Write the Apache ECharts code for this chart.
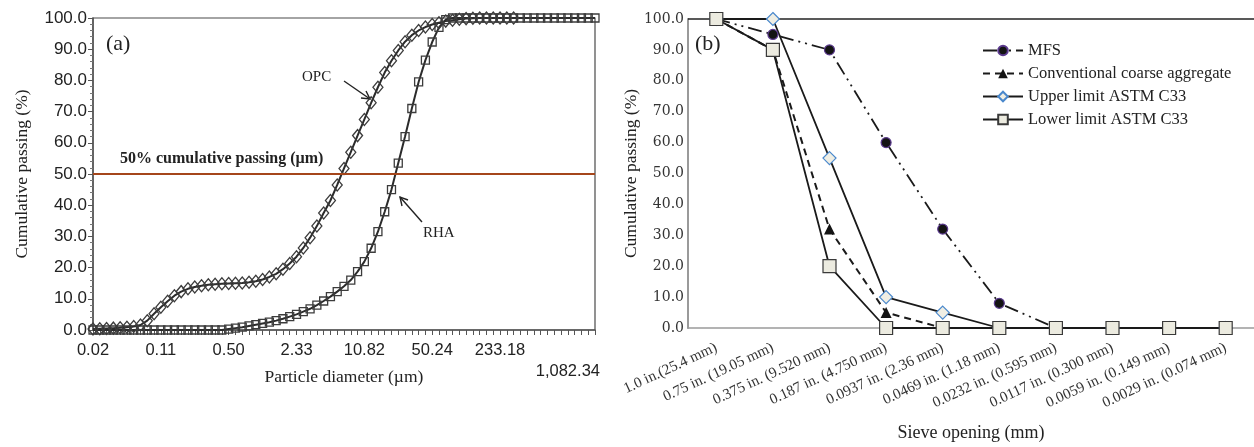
<!DOCTYPE html>
<html>
<head>
<meta charset="utf-8">
<script src="https://cdn.jsdelivr.net/npm/echarts@6/dist/echarts.min.js"></script>
<style>
  html, body { margin: 0; padding: 0; background: #fff; }
  #chart { width: 1254px; height: 447px; }
</style>
</head>
<body>
<div id="chart"></div>
<script>
// (a) laser diffraction size classes, um (15 per decade)
const sizeBins = [
  0.02332, 0.02719, 0.03170, 0.03696, 0.04309, 0.05024, 0.05857, 0.06829, 0.07962, 0.09283,
  0.1082, 0.1262, 0.1471, 0.1715, 0.2000, 0.2332, 0.2719, 0.3170, 0.3696, 0.4309,
  0.5024, 0.5857, 0.6829, 0.7962, 0.9283, 1.082, 1.262, 1.471, 1.715, 2.000,
  2.332, 2.719, 3.170, 3.696, 4.309, 5.024, 5.857, 6.829, 7.962, 9.283,
  10.82, 12.62, 14.71, 17.15, 20.00, 23.32, 27.19, 31.70, 36.96, 43.09,
  50.24, 58.57, 68.29, 79.62, 92.83, 108.2, 126.2, 147.1, 171.5, 200.0,
  233.18, 271.9, 317.0, 369.6, 430.9, 502.4, 585.7, 682.9, 796.2, 928.3,
  1082.34, 1261.9, 1471.3, 1715.4, 2000.0
]
const sizeTickLabels = ["0.02", "0.11", "0.50", "2.33", "10.82", "50.24", "233.18", "1,082.34"]

const opcPassing = [
  0.3, 0.4, 0.5, 0.6, 0.7, 0.9, 1.1, 1.6, 3.0, 5.2,
  7.3, 9.2, 11.0, 12.3, 13.2, 13.8, 14.2, 14.5, 14.7, 14.8,
  14.9, 15.0, 15.1, 15.3, 15.6, 16.2, 17.0, 18.0, 19.5, 21.3,
  23.5, 26.3, 29.6, 33.3, 37.5, 41.5, 46.5, 51.8, 57.0, 62.3,
  67.5, 72.8, 77.8, 82.5, 86.3, 89.6, 92.4, 94.5, 96.0, 97.1,
  97.9, 98.5, 99.0, 99.3, 99.6, 99.8, 99.9, 100, 100, 100,
  100, 100, 100
]
const rhaPassing = [
  0, 0, 0, 0, 0, 0, 0, 0, 0, 0,
  0, 0, 0, 0, 0, 0, 0, 0, 0, 0,
  0.3, 0.6, 0.9, 1.3, 1.7, 2.1, 2.5, 3.0, 3.6, 4.3,
  5.0, 5.9, 6.8, 8.0, 9.3, 10.7, 12.3, 14.0, 16.0, 18.7,
  21.9, 26.2, 31.5, 37.9, 45.0, 53.5, 62.0, 71.0, 79.5, 86.5,
  92.3, 97.0, 99.5, 100, 100, 100, 100, 100, 100, 100,
  100, 100, 100, 100, 100, 100, 100, 100, 100, 100,
  100, 100, 100, 100, 100
]

// (b) sieve analysis
const sieveLabels = [
  "1.0 in.(25.4 mm)", "0.75 in. (19.05 mm)", "0.375 in. (9.520 mm)", "0.187 in. (4.750 mm)",
  "0.0937 in. (2.36 mm)", "0.0469 in. (1.18 mm)", "0.0232 in. (0.595 mm)", "0.0117 in. (0.300 mm)",
  "0.0059 in. (0.149 mm)", "0.0029 in. (0.074 mm)"
]
const mfsPassing = [100, 95, 90, 60, 32, 8, 0, 0, 0, 0]
const coarsePassing = [100, 90, 32, 5, 0, 0, 0, 0, 0, 0]
const upperC33 = [100, 100, 55, 10, 5, 0, 0, 0, 0, 0]
const lowerC33 = [100, 90, 20, 0, 0, 0, 0, 0, 0, 0]

const SERIF = '"Liberation Serif", "Times New Roman", serif'
const SANS = '"Liberation Sans", Arial, sans-serif'
const DARK = "#2b2b2b"

let myChart = echarts.init(document.getElementById("chart"), null, { renderer: "canvas" })

myChart.setOption({
  animation: false,
  backgroundColor: "#fff",
  grid: [
    { left: 93, top: 18, width: 502, height: 312, show: true, borderColor: "#4a4a4a", borderWidth: 1.2 },
    { left: 688, top: 19, width: 570, height: 310 },
  ],
  legend: {
    data: ["MFS", "Conventional coarse aggregate", "Upper limit ASTM C33", "Lower limit ASTM C33"],
    orient: "vertical",
    left: 977,
    top: 37,
    itemWidth: 40,
    itemHeight: 12,
    itemGap: 6,
    textStyle: { fontFamily: SERIF, fontSize: 16.5, color: "#222" },
  },
  xAxis: [
    {
      gridIndex: 0,
      type: "category",
      data: sizeBins,
      boundaryGap: false,
      name: "Particle diameter (\u00b5m)",
      nameLocation: "middle",
      nameGap: 38,
      nameMoveOverlap: false,
      nameTextStyle: { fontFamily: SERIF, fontSize: 17.5, color: "#222" },
      axisLine: { lineStyle: { color: "#555", width: 1.5 } },
      axisTick: { interval: 0, length: 5, lineStyle: { color: "#555" } },
      axisLabel: {
        interval: 9,
        margin: 10,
        fontFamily: SANS,
        fontSize: 16.5,
        lineHeight: 21,
        color: "#222",
        formatter: (value, index) => {
          let label = sizeTickLabels[index / 10]
          return index === 70 ? "\n" + label : label
        },
      },
      splitLine: { show: false },
    },
    {
      gridIndex: 1,
      type: "category",
      data: sieveLabels,
      name: "Sieve opening (mm)",
      nameLocation: "middle",
      nameGap: 96,
      nameTextStyle: { fontFamily: SERIF, fontSize: 18, color: "#222" },
      axisLine: { lineStyle: { color: "#9a9a9a", width: 1.5 } },
      axisTick: { length: 5, lineStyle: { color: "#9a9a9a" } },
      axisLabel: { interval: 0, rotate: 25, margin: 19, fontFamily: SERIF, fontSize: 15, color: "#333" },
    },
  ],
  yAxis: [
    {
      gridIndex: 0,
      type: "value",
      min: 0,
      max: 100,
      interval: 10,
      name: "Cumulative passing (%)",
      nameLocation: "middle",
      nameGap: 62,
      nameTextStyle: { fontFamily: SERIF, fontSize: 17.5, color: "#222" },
      axisLine: { show: true, lineStyle: { color: "#555", width: 1.5 } },
      axisTick: { show: true, length: 5, lineStyle: { color: "#555" } },
      minorTick: { show: true, splitNumber: 5, length: 3, lineStyle: { color: "#777" } },
      axisLabel: { margin: 6, fontFamily: SANS, fontSize: 17, color: "#222", formatter: (v) => v.toFixed(1) },
      splitLine: { show: false },
    },
    {
      gridIndex: 1,
      type: "value",
      min: 0,
      max: 100,
      interval: 10,
      name: "Cumulative passing (%)",
      nameLocation: "middle",
      nameGap: 46,
      nameTextStyle: { fontFamily: SERIF, fontSize: 17.5, color: "#222" },
      axisLine: { show: true, lineStyle: { color: "#9a9a9a", width: 2 } },
      axisTick: { show: false },
      axisLabel: { margin: 4, fontFamily: '"DejaVu Serif", serif', fontSize: 14, color: "#333", formatter: (v) => v.toFixed(1) },
      splitLine: { show: false },
    },
  ],
  series: [
    {
      name: "OPC",
      type: "line",
      xAxisIndex: 0,
      yAxisIndex: 0,
      data: opcPassing,
      showAllSymbol: true,
      symbol: "diamond",
      symbolSize: [10, 12],
      itemStyle: { color: "rgba(255,255,255,0)", borderColor: "#3c3c3c", borderWidth: 1.3 },
      lineStyle: { color: DARK, width: 2 },
      z: 3,
    },
    {
      name: "RHA",
      type: "line",
      xAxisIndex: 0,
      yAxisIndex: 0,
      data: rhaPassing,
      showAllSymbol: true,
      symbol: "rect",
      symbolSize: 8,
      itemStyle: { color: "rgba(255,255,255,0)", borderColor: "#3c3c3c", borderWidth: 1.3 },
      lineStyle: { color: DARK, width: 2 },
      markLine: {
        silent: true,
        symbol: "none",
        label: { show: false },
        lineStyle: { color: "#a5461b", width: 2, type: "solid" },
        data: [{ yAxis: 50 }],
      },
      z: 2,
    },
    {
      name: "MFS",
      type: "line",
      xAxisIndex: 1,
      yAxisIndex: 1,
      data: mfsPassing,
      symbol: "circle",
      symbolSize: 10,
      itemStyle: { color: "#141414", borderColor: "#5b3a8e", borderWidth: 1.2 },
      lineStyle: { color: "#1a1a1a", width: 1.8, type: [14, 5, 2, 5, 2, 5] },
    },
    {
      name: "Conventional coarse aggregate",
      type: "line",
      xAxisIndex: 1,
      yAxisIndex: 1,
      data: coarsePassing,
      symbol: "triangle",
      symbolSize: 11,
      itemStyle: { color: "#141414" },
      lineStyle: { color: "#1a1a1a", width: 2, type: [7, 5] },
    },
    {
      name: "Upper limit ASTM C33",
      type: "line",
      xAxisIndex: 1,
      yAxisIndex: 1,
      data: upperC33,
      symbol: "diamond",
      symbolSize: [13, 13],
      itemStyle: { color: "#efeee4", borderColor: "#4a88cc", borderWidth: 1.2 },
      lineStyle: { color: "#1a1a1a", width: 1.8 },
    },
    {
      name: "Lower limit ASTM C33",
      type: "line",
      xAxisIndex: 1,
      yAxisIndex: 1,
      data: lowerC33,
      symbol: "rect",
      symbolSize: 13,
      itemStyle: { color: "#ecebe0", borderColor: "#3a3a3a", borderWidth: 1.2 },
      lineStyle: { color: "#1a1a1a", width: 1.8 },
      markLine: {
        silent: true,
        symbol: "none",
        label: { show: false },
        lineStyle: { color: "#222", width: 1.5, type: "solid" },
        data: [{ yAxis: 100 }],
        z: 1,
      },
    },
  ],
  graphic: [
    { type: "text", left: 106, top: 33, style: { text: "(a)", font: '22px "Liberation Serif"', fill: "#222" } },
    { type: "text", left: 695, top: 33, style: { text: "(b)", font: '22px "Liberation Serif"', fill: "#222" } },
    { type: "text", left: 302, top: 70, style: { text: "OPC", font: '15px "Liberation Serif"', fill: "#222" } },
    { type: "text", left: 423, top: 226, style: { text: "RHA", font: '15px "Liberation Serif"', fill: "#222" } },
    { type: "text", left: 120, top: 151, style: { text: "50% cumulative passing (\u00b5m)", font: 'bold 16px "Liberation Serif"', fill: "#222" } },
    // arrows
    { type: "polyline", shape: { points: [[344, 81], [370, 99]] }, style: { stroke: "#222", lineWidth: 1.4, fill: null } },
    { type: "polyline", shape: { points: [[366, 91], [370, 99], [361, 98]] }, style: { stroke: "#222", lineWidth: 1.4, fill: null } },
    { type: "polyline", shape: { points: [[422, 222], [400, 197]] }, style: { stroke: "#222", lineWidth: 1.4, fill: null } },
    { type: "polyline", shape: { points: [[402, 206], [400, 197], [408, 200]] }, style: { stroke: "#222", lineWidth: 1.4, fill: null } },
  ],
})

window.addEventListener("resize", () => {
  myChart.resize()
})
</script>
</body>
</html>
